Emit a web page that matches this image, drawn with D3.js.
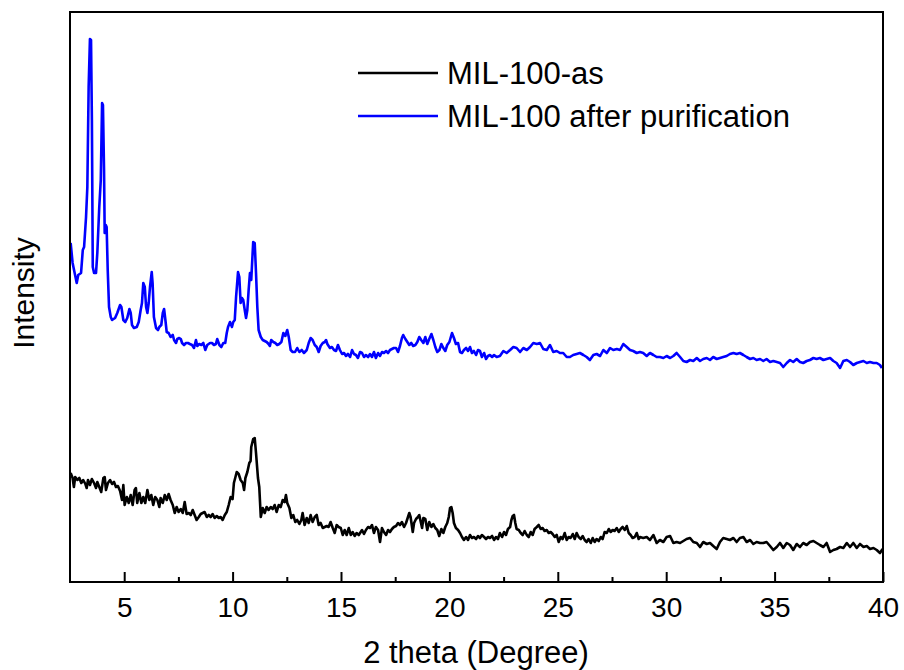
<!DOCTYPE html>
<html>
<head>
<meta charset="utf-8">
<script src="https://d3js.org/d3.v7.min.js"></script>
<style>
  body { margin: 0; background: #fff; }
  text { font-family: Arial, "Liberation Sans", sans-serif; fill: #000; }
</style>
</head>
<body>
<svg id="chart" width="904" height="670"></svg>
<script>
// tick labels, legend names
const majorTicks = [5, 10, 15, 20, 25, 30, 35, 40];
const minorTicks = [7.5, 12.5, 17.5, 22.5, 27.5, 32.5, 37.5];
const seriesNames = ["MIL-100-as", "MIL-100 after purification"];
const seriesColors = ["#000000", "#0000ff"];

// [2 theta (deg), intensity (a.u.)]
const asSynth = [
  [2.53,109],[2.62,104],[2.68,95],[2.74,105],[2.84,102],[2.93,104],[3.02,99],[3.11,102],[3.21,98],[3.27,94],
  [3.33,102],[3.42,97],[3.51,103],[3.61,99],[3.70,94],[3.76,100],[3.85,95],[3.94,90],[4.04,104],[4.10,105],
  [4.16,92],[4.25,99],[4.35,102],[4.44,98],[4.53,100],[4.62,95],[4.71,96],[4.81,91],[4.90,82],[4.96,97],
  [5.02,77],[5.12,85],[5.21,79],[5.30,87],[5.39,77],[5.48,92],[5.54,94],[5.60,79],[5.70,89],[5.79,79],
  [5.88,85],[5.97,79],[6.07,92],[6.16,82],[6.25,87],[6.34,77],[6.43,85],[6.53,82],[6.62,75],[6.68,84],
  [6.78,79],[6.87,87],[6.96,82],[7.05,88],[7.14,82],[7.24,77],[7.33,69],[7.42,75],[7.51,70],[7.61,73],
  [7.70,69],[7.79,80],[7.88,68],[7.98,69],[8.07,67],[8.16,72],[8.25,67],[8.34,62],[8.44,65],[8.53,68],
  [8.62,69],[8.71,70],[8.81,65],[8.90,67],[8.99,65],[9.08,68],[9.17,64],[9.27,66],[9.36,64],[9.45,65],
  [9.54,62],[9.64,67],[9.73,70],[9.82,77],[9.91,85],[10.00,83],[10.06,99],[10.12,104],[10.19,110],[10.28,108],
  [10.37,102],[10.47,99],[10.53,92],[10.59,104],[10.68,110],[10.77,119],[10.83,121],[10.86,135],[10.95,143],[11.02,144],
  [11.08,129],[11.17,104],[11.23,95],[11.30,65],[11.39,74],[11.48,69],[11.57,75],[11.66,72],[11.76,75],[11.85,73],
  [11.94,77],[12.03,70],[12.13,77],[12.22,75],[12.31,82],[12.40,80],[12.46,87],[12.52,79],[12.62,74],[12.71,64],
  [12.80,67],[12.89,60],[12.98,62],[13.08,58],[13.17,62],[13.23,69],[13.32,57],[13.42,64],[13.51,59],[13.60,67],
  [13.69,60],[13.79,65],[13.88,67],[13.97,57],[14.06,59],[14.16,54],[14.25,55],[14.34,56],[14.43,55],[14.52,60],
  [14.62,54],[14.71,49],[14.80,57],[14.89,55],[14.99,54],[15.08,47],[15.17,52],[15.26,47],[15.36,54],[15.45,47],
  [15.54,50],[15.63,46],[15.72,49],[15.82,47],[15.88,49],[15.97,52],[16.06,48],[16.15,52],[16.25,55],[16.34,54],
  [16.43,57],[16.52,49],[16.61,55],[16.71,52],[16.80,40],[16.89,54],[16.98,50],[17.08,47],[17.17,52],[17.26,50],
  [17.35,53],[17.44,55],[17.54,56],[17.63,59],[17.72,57],[17.81,60],[17.91,55],[18.00,59],[18.09,65],[18.15,69],
  [18.21,65],[18.31,50],[18.37,59],[18.46,63],[18.55,65],[18.61,67],[18.68,60],[18.74,54],[18.80,64],[18.89,63],
  [18.98,52],[19.07,60],[19.17,55],[19.26,58],[19.35,54],[19.44,52],[19.53,46],[19.63,53],[19.72,49],[19.81,55],
  [19.90,59],[19.97,65],[20.03,74],[20.09,75],[20.15,69],[20.21,59],[20.30,54],[20.40,52],[20.49,49],[20.58,45],
  [20.67,42],[20.77,45],[20.86,42],[20.95,47],[21.04,44],[21.13,45],[21.23,43],[21.32,46],[21.41,44],[21.50,47],
  [21.60,45],[21.69,43],[21.78,45],[21.87,44],[21.97,46],[22.06,42],[22.15,45],[22.24,43],[22.33,49],[22.43,45],
  [22.52,50],[22.61,47],[22.70,53],[22.80,55],[22.86,62],[22.92,66],[22.98,67],[23.04,59],[23.10,53],[23.20,52],
  [23.29,49],[23.38,47],[23.47,51],[23.57,47],[23.66,45],[23.75,50],[23.84,47],[23.93,53],[24.03,55],[24.12,57],
  [24.21,53],[24.30,54],[24.39,51],[24.49,52],[24.58,49],[24.67,50],[24.76,48],[24.86,45],[24.95,47],[25.04,40],
  [25.13,45],[25.22,43],[25.32,49],[25.41,42],[25.50,45],[25.59,44],[25.69,48],[25.78,43],[25.87,49],[25.96,45],
  [26.06,43],[26.15,46],[26.24,42],[26.33,40],[26.42,43],[26.52,39],[26.61,44],[26.70,40],[26.79,43],[26.89,41],
  [26.98,45],[27.07,43],[27.16,50],[27.26,49],[27.35,53],[27.44,50],[27.53,52],[27.62,51],[27.72,54],[27.81,50],
  [27.90,53],[27.99,55],[28.09,52],[28.18,56],[28.27,49],[28.36,47],[28.45,44],[28.55,45],[28.64,49],[28.73,43],
  [28.79,45],[28.94,44],[29.10,45],[29.25,42],[29.41,47],[29.56,39],[29.71,42],[29.87,40],[30.02,45],[30.18,46],
  [30.33,39],[30.48,40],[30.64,39],[30.79,41],[30.94,43],[31.10,44],[31.25,40],[31.41,39],[31.56,35],[31.71,40],
  [31.87,38],[32.02,39],[32.17,36],[32.33,33],[32.48,40],[32.63,44],[32.79,43],[32.94,42],[33.10,44],[33.25,40],
  [33.40,44],[33.56,45],[33.71,40],[33.87,42],[34.02,38],[34.17,40],[34.33,39],[34.48,39],[34.63,40],[34.79,36],
  [34.94,32],[35.10,35],[35.25,39],[35.40,34],[35.56,39],[35.71,37],[35.86,32],[36.02,38],[36.17,35],[36.32,39],
  [36.48,37],[36.63,40],[36.79,41],[36.94,39],[37.09,37],[37.25,35],[37.40,39],[37.56,30],[37.71,32],[37.86,33],
  [38.02,35],[38.17,34],[38.33,39],[38.48,35],[38.63,39],[38.79,34],[38.94,38],[39.10,35],[39.25,36],[39.40,33],
  [39.56,34],[39.71,32],[39.86,29],[39.98,33]
];

const purified = [
  [2.53,339],[2.62,319],[2.81,299],[2.88,307],[3.01,309],[3.09,332],[3.15,335],[3.24,365],[3.30,395],[3.36,495],
  [3.42,543],[3.47,542],[3.51,462],[3.55,315],[3.61,309],[3.70,309],[3.76,329],[3.85,375],[3.92,402],[3.98,479],
  [4.02,477],[4.07,412],[4.10,349],[4.15,357],[4.19,355],[4.24,312],[4.30,275],[4.38,265],[4.44,262],[4.58,264],
  [4.68,269],[4.81,277],[4.87,275],[4.96,262],[5.05,260],[5.14,264],[5.24,273],[5.30,269],[5.36,257],[5.45,254],
  [5.58,255],[5.67,260],[5.76,272],[5.82,279],[5.88,299],[5.95,295],[6.01,275],[6.07,269],[6.13,279],[6.19,295],
  [6.27,310],[6.31,299],[6.37,265],[6.47,254],[6.56,252],[6.62,255],[6.71,257],[6.78,269],[6.84,273],[6.90,262],
  [6.96,250],[7.05,249],[7.14,245],[7.24,247],[7.30,242],[7.39,239],[7.45,243],[7.54,244],[7.61,243],[7.67,239],
  [7.76,237],[7.85,239],[7.94,239],[8.03,238],[8.13,237],[8.22,234],[8.31,242],[8.37,236],[8.46,238],[8.56,237],
  [8.65,239],[8.74,232],[8.83,237],[8.96,239],[9.05,239],[9.14,237],[9.23,238],[9.29,243],[9.39,237],[9.48,235],
  [9.57,239],[9.66,239],[9.73,249],[9.79,255],[9.88,260],[9.97,255],[10.03,260],[10.10,262],[10.16,285],[10.25,310],
  [10.31,305],[10.37,279],[10.43,284],[10.49,282],[10.56,272],[10.62,264],[10.68,272],[10.74,292],[10.80,309],[10.86,302],
  [10.95,340],[11.02,339],[11.08,309],[11.14,275],[11.20,252],[11.30,245],[11.39,242],[11.48,241],[11.57,240],[11.66,238],
  [11.72,236],[11.78,242],[11.88,240],[11.97,239],[12.06,237],[12.15,238],[12.25,240],[12.34,249],[12.43,246],[12.52,252],
  [12.59,245],[12.68,232],[12.77,230],[12.88,230],[12.98,234],[13.08,230],[13.19,232],[13.29,229],[13.42,232],[13.51,239],
  [13.60,244],[13.69,242],[13.79,237],[13.88,235],[13.97,230],[14.06,236],[14.16,239],[14.25,240],[14.31,242],[14.37,238],
  [14.49,234],[14.58,235],[14.68,232],[14.77,231],[14.86,237],[14.95,232],[15.05,228],[15.14,229],[15.23,226],[15.32,228],
  [15.42,225],[15.51,232],[15.60,228],[15.69,227],[15.78,224],[15.88,230],[15.97,229],[16.06,225],[16.15,227],[16.25,225],
  [16.34,228],[16.43,225],[16.52,230],[16.61,224],[16.71,229],[16.80,226],[16.89,230],[16.98,229],[17.08,231],[17.17,229],
  [17.26,232],[17.35,233],[17.44,234],[17.54,234],[17.63,230],[17.72,236],[17.81,244],[17.87,247],[17.97,243],[18.06,240],
  [18.15,237],[18.24,239],[18.33,236],[18.43,237],[18.52,240],[18.61,245],[18.70,242],[18.80,239],[18.89,245],[18.98,238],
  [19.07,243],[19.17,248],[19.26,242],[19.35,235],[19.44,230],[19.54,232],[19.63,238],[19.72,234],[19.81,231],[19.90,237],
  [20.00,240],[20.12,249],[20.21,244],[20.30,238],[20.40,239],[20.49,230],[20.58,229],[20.67,232],[20.77,234],[20.86,231],
  [20.95,235],[21.04,229],[21.13,231],[21.23,227],[21.32,232],[21.41,231],[21.50,225],[21.60,229],[21.69,223],[21.78,226],
  [21.87,227],[21.97,225],[22.06,227],[22.18,225],[22.33,226],[22.49,231],[22.64,229],[22.80,232],[22.95,235],[23.10,234],
  [23.26,230],[23.41,234],[23.57,232],[23.72,235],[23.87,239],[24.03,238],[24.18,239],[24.33,233],[24.49,232],[24.64,237],
  [24.79,230],[24.95,231],[25.10,229],[25.25,229],[25.41,225],[25.56,225],[25.71,227],[25.87,228],[26.02,229],[26.18,227],
  [26.33,225],[26.48,222],[26.64,227],[26.79,228],[26.95,226],[27.10,232],[27.26,229],[27.41,234],[27.56,232],[27.72,233],
  [27.87,232],[28.02,238],[28.18,235],[28.33,232],[28.48,231],[28.64,229],[28.79,230],[28.94,229],[29.10,226],[29.25,229],
  [29.41,227],[29.56,225],[29.71,225],[29.87,224],[30.02,226],[30.18,224],[30.33,226],[30.48,229],[30.64,225],[30.79,221],
  [30.94,220],[31.10,222],[31.25,221],[31.41,224],[31.56,221],[31.71,223],[31.87,224],[32.02,222],[32.17,225],[32.33,223],
  [32.48,224],[32.63,225],[32.79,226],[32.94,228],[33.10,229],[33.25,228],[33.40,229],[33.56,227],[33.71,225],[33.87,223],
  [34.02,224],[34.17,222],[34.33,223],[34.48,221],[34.63,223],[34.79,220],[34.94,221],[35.10,220],[35.25,219],[35.40,215],
  [35.56,219],[35.71,222],[35.86,220],[36.02,223],[36.17,220],[36.32,219],[36.48,221],[36.63,222],[36.79,224],[36.94,223],
  [37.09,224],[37.25,222],[37.40,223],[37.56,224],[37.71,221],[37.86,219],[38.02,214],[38.17,221],[38.33,222],[38.48,220],
  [38.63,217],[38.79,219],[38.94,220],[39.10,221],[39.25,219],[39.40,220],[39.56,219],[39.71,219],[39.86,217],[39.95,214]
];

const svg = d3.select('svg#chart');
const mLeft = 70, mRight = 883, mTop = 12, mBottom = 582;

const x = d3.scaleLinear().domain([2.5, 40]).range([mLeft, mRight]);
const y = d3.scaleLinear().domain([0, 570]).range([mBottom, mTop]);

const line = d3.line().x(d => x(d[0])).y(d => y(d[1]));

const plot = svg.append('g').attr('id', 'plot');

[asSynth, purified].forEach((s, i) => {
  plot.append('path')
      .datum(s)
      .attr('fill', 'none')
      .attr('stroke', seriesColors[i])
      .attr('stroke-width', 2.6)
      .attr('stroke-linejoin', 'round')
      .attr('d', line);
});

// frame
svg.append('rect')
   .attr('x', mLeft).attr('y', mTop)
   .attr('width', mRight - mLeft).attr('height', mBottom - mTop)
   .attr('fill', 'none').attr('stroke', '#000').attr('stroke-width', 2);

// bottom axis, ticks pointing inwards
const xAxis = svg.append('g')
   .attr('transform', `translate(0,${mBottom})`)
   .call(d3.axisBottom(x).tickValues(majorTicks).tickSizeInner(-10).tickSizeOuter(0).tickPadding(15));
xAxis.select('.domain').remove();
xAxis.selectAll('line').attr('stroke-width', 2);
xAxis.selectAll('text').style('font-size', '28px').attr('font-family', 'Arial, "Liberation Sans", sans-serif');

const xMinor = svg.append('g')
   .attr('transform', `translate(0,${mBottom})`)
   .call(d3.axisBottom(x).tickValues(minorTicks).tickSizeInner(-5).tickSizeOuter(0).tickFormat(''));
xMinor.select('.domain').remove();
xMinor.selectAll('line').attr('stroke-width', 2);

// axis titles
svg.append('text')
   .attr('x', 476).attr('y', 663)
   .attr('text-anchor', 'middle')
   .style('font-size', '31px')
   .text('2 theta (Degree)');

svg.append('text')
   .attr('transform', `translate(34,293) rotate(-90)`)
   .attr('text-anchor', 'middle')
   .style('font-size', '30px')
   .text('Intensity');

// legend
const legend = svg.append('g').attr('id', 'legend');
const legendY = [73, 116];
seriesNames.forEach((name, i) => {
  legend.append('line')
        .attr('x1', 358).attr('x2', 438)
        .attr('y1', legendY[i]).attr('y2', legendY[i])
        .attr('stroke', seriesColors[i]).attr('stroke-width', 2.6);
  legend.append('text')
        .attr('x', 447).attr('y', legendY[i])
        .attr('dy', '0.36em')
        .style('font-size', '31px')
        .text(name);
});
</script>
</body>
</html>
